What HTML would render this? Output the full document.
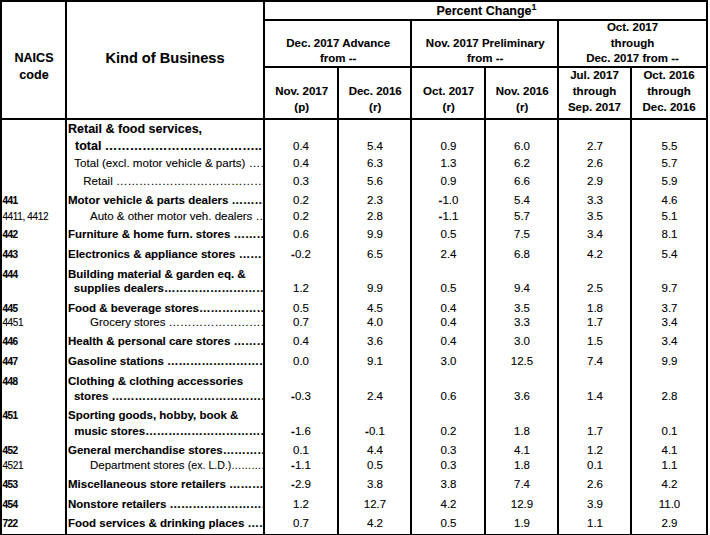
<!DOCTYPE html>
<html lang="en">
<head>
<meta charset="utf-8">
<title>Percent Change by Kind of Business</title>
<style>
html,body{margin:0;padding:0;background:#fff;}
body{width:710px;height:535px;overflow:hidden;position:relative;font-family:"Liberation Sans",Arial,Helvetica,sans-serif;color:#000;}
.l{position:absolute;background:#000;}
.t{position:absolute;white-space:pre;overflow:hidden;-webkit-text-stroke:0.1px #000;}
.b{font-weight:bold;}
.big{font-size:12.5px;}
.sup{font-size:9px;position:relative;top:-5px;}
</style>
</head>
<body>
<div class="l" style="left:0px;top:0px;width:708px;height:2px"></div>
<div class="l" style="left:0px;top:0px;width:2px;height:535px"></div>
<div class="l" style="left:706px;top:0px;width:2px;height:535px"></div>
<div class="l" style="left:0px;top:534px;width:708px;height:2px"></div>
<div class="l" style="left:65px;top:0px;width:2px;height:535px"></div>
<div class="l" style="left:263px;top:0px;width:2px;height:535px"></div>
<div class="l" style="left:337px;top:66px;width:2px;height:469px"></div>
<div class="l" style="left:410px;top:20px;width:2px;height:515px"></div>
<div class="l" style="left:484px;top:66px;width:2px;height:469px"></div>
<div class="l" style="left:557px;top:20px;width:2px;height:515px"></div>
<div class="l" style="left:630px;top:66px;width:2px;height:469px"></div>
<div class="l" style="left:263px;top:19px;width:445px;height:2px"></div>
<div class="l" style="left:263px;top:66px;width:445px;height:2px"></div>
<div class="l" style="left:0px;top:118px;width:708px;height:2px"></div>
<div class="t b" style="left:2.5px;top:51px;width:63px;height:14px;line-height:14px;font-size:12.6px;text-align:center;">NAICS</div>
<div class="t b" style="left:2.5px;top:68px;width:63px;height:14px;line-height:14px;font-size:12.6px;text-align:center;">code</div>
<div class="t b" style="left:67px;top:49px;width:196px;height:18px;line-height:18px;font-size:14.6px;text-align:center;">Kind of Business</div>
<div class="t b" style="left:266px;top:3.5px;width:441px;height:14px;line-height:14px;font-size:12.5px;text-align:center;">Percent Change<span class="sup">1</span></div>
<div class="t b" style="left:265.7px;top:36px;width:145px;height:14px;line-height:14px;font-size:11.5px;text-align:center;">Dec. 2017 Advance</div>
<div class="t b" style="left:265.7px;top:51px;width:145px;height:14px;line-height:14px;font-size:11.5px;text-align:center;">from --</div>
<div class="t b" style="left:412.7px;top:36px;width:145px;height:14px;line-height:14px;font-size:11.5px;text-align:center;">Nov. 2017 Preliminary</div>
<div class="t b" style="left:412.7px;top:51px;width:145px;height:14px;line-height:14px;font-size:11.5px;text-align:center;">from --</div>
<div class="t b" style="left:559px;top:20px;width:147px;height:14px;line-height:14px;font-size:11.5px;text-align:center;">Oct. 2017</div>
<div class="t b" style="left:559px;top:36px;width:147px;height:14px;line-height:14px;font-size:11.5px;text-align:center;">through</div>
<div class="t b" style="left:559px;top:51px;width:147px;height:14px;line-height:14px;font-size:11.5px;text-align:center;">Dec. 2017 from --</div>
<div class="t b" style="left:265.7px;top:84px;width:72px;height:14px;line-height:14px;font-size:11.5px;text-align:center;">Nov. 2017</div>
<div class="t b" style="left:265.7px;top:100px;width:72px;height:14px;line-height:14px;font-size:11.5px;text-align:center;">(p)</div>
<div class="t b" style="left:339.7px;top:84px;width:71px;height:14px;line-height:14px;font-size:11.5px;text-align:center;">Dec. 2016</div>
<div class="t b" style="left:339.7px;top:100px;width:71px;height:14px;line-height:14px;font-size:11.5px;text-align:center;">(r)</div>
<div class="t b" style="left:412.7px;top:84px;width:72px;height:14px;line-height:14px;font-size:11.5px;text-align:center;">Oct. 2017</div>
<div class="t b" style="left:412.7px;top:100px;width:72px;height:14px;line-height:14px;font-size:11.5px;text-align:center;">(r)</div>
<div class="t b" style="left:486.7px;top:84px;width:71px;height:14px;line-height:14px;font-size:11.5px;text-align:center;">Nov. 2016</div>
<div class="t b" style="left:486.7px;top:100px;width:71px;height:14px;line-height:14px;font-size:11.5px;text-align:center;">(r)</div>
<div class="t b" style="left:559px;top:68px;width:71px;height:14px;line-height:14px;font-size:11.5px;text-align:center;">Jul. 2017</div>
<div class="t b" style="left:559px;top:84px;width:71px;height:14px;line-height:14px;font-size:11.5px;text-align:center;">through</div>
<div class="t b" style="left:559px;top:100px;width:71px;height:14px;line-height:14px;font-size:11.5px;text-align:center;">Sep. 2017</div>
<div class="t b" style="left:632px;top:68px;width:74px;height:14px;line-height:14px;font-size:11.5px;text-align:center;">Oct. 2016</div>
<div class="t b" style="left:632px;top:84px;width:74px;height:14px;line-height:14px;font-size:11.5px;text-align:center;">through</div>
<div class="t b" style="left:632px;top:100px;width:74px;height:14px;line-height:14px;font-size:11.5px;text-align:center;">Dec. 2016</div>
<div class="t b" style="left:68px;top:122px;width:195px;height:14px;line-height:14px;font-size:11.5px;padding-left:0px;box-sizing:border-box;"><span class="big">Retail &amp; food services,</span></div>
<div class="t b" style="left:68px;top:139px;width:195px;height:14px;line-height:14px;font-size:11.5px;padding-left:7px;box-sizing:border-box;"><span class="big">total ………………………………..</span></div>
<div class="t " style="left:265px;top:139px;width:72px;height:14px;line-height:14px;font-size:11.5px;text-align:center;">0.4</div>
<div class="t " style="left:339.5px;top:139px;width:71px;height:14px;line-height:14px;font-size:11.5px;text-align:center;">5.4</div>
<div class="t " style="left:412.5px;top:139px;width:72px;height:14px;line-height:14px;font-size:11.5px;text-align:center;">0.9</div>
<div class="t " style="left:486.5px;top:139px;width:71px;height:14px;line-height:14px;font-size:11.5px;text-align:center;">6.0</div>
<div class="t " style="left:559.5px;top:139px;width:71px;height:14px;line-height:14px;font-size:11.5px;text-align:center;">2.7</div>
<div class="t " style="left:632.5px;top:139px;width:74px;height:14px;line-height:14px;font-size:11.5px;text-align:center;">5.5</div>
<div class="t " style="left:68px;top:156px;width:195px;height:14px;line-height:14px;font-size:11.5px;padding-left:6.3px;box-sizing:border-box;"><span style="font-size:11.58px">Total (excl. motor vehicle &amp; parts) ………………………………………………………………………………</span></div>
<div class="t " style="left:265px;top:156px;width:72px;height:14px;line-height:14px;font-size:11.5px;text-align:center;">0.4</div>
<div class="t " style="left:339.5px;top:156px;width:71px;height:14px;line-height:14px;font-size:11.5px;text-align:center;">6.3</div>
<div class="t " style="left:412.5px;top:156px;width:72px;height:14px;line-height:14px;font-size:11.5px;text-align:center;">1.3</div>
<div class="t " style="left:486.5px;top:156px;width:71px;height:14px;line-height:14px;font-size:11.5px;text-align:center;">6.2</div>
<div class="t " style="left:559.5px;top:156px;width:71px;height:14px;line-height:14px;font-size:11.5px;text-align:center;">2.6</div>
<div class="t " style="left:632.5px;top:156px;width:74px;height:14px;line-height:14px;font-size:11.5px;text-align:center;">5.7</div>
<div class="t " style="left:68px;top:174px;width:195px;height:14px;line-height:14px;font-size:11.5px;padding-left:15.3px;box-sizing:border-box;">Retail ………………………………………………………………………………</div>
<div class="t " style="left:265px;top:174px;width:72px;height:14px;line-height:14px;font-size:11.5px;text-align:center;">0.3</div>
<div class="t " style="left:339.5px;top:174px;width:71px;height:14px;line-height:14px;font-size:11.5px;text-align:center;">5.6</div>
<div class="t " style="left:412.5px;top:174px;width:72px;height:14px;line-height:14px;font-size:11.5px;text-align:center;">0.9</div>
<div class="t " style="left:486.5px;top:174px;width:71px;height:14px;line-height:14px;font-size:11.5px;text-align:center;">6.6</div>
<div class="t " style="left:559.5px;top:174px;width:71px;height:14px;line-height:14px;font-size:11.5px;text-align:center;">2.9</div>
<div class="t " style="left:632.5px;top:174px;width:74px;height:14px;line-height:14px;font-size:11.5px;text-align:center;">5.9</div>
<div class="t b" style="left:2.4px;top:194px;width:62px;height:14px;line-height:14px;font-size:10px;letter-spacing:-0.55px;">441</div>
<div class="t b" style="left:68px;top:193px;width:195px;height:14px;line-height:14px;font-size:11.5px;padding-left:0px;box-sizing:border-box;">Motor vehicle &amp; parts dealers ………………………………………………………………………………</div>
<div class="t " style="left:265px;top:193px;width:72px;height:14px;line-height:14px;font-size:11.5px;text-align:center;">0.2</div>
<div class="t " style="left:339.5px;top:193px;width:71px;height:14px;line-height:14px;font-size:11.5px;text-align:center;">2.3</div>
<div class="t " style="left:412.5px;top:193px;width:72px;height:14px;line-height:14px;font-size:11.5px;text-align:center;"><b>-</b>1.0</div>
<div class="t " style="left:486.5px;top:193px;width:71px;height:14px;line-height:14px;font-size:11.5px;text-align:center;">5.4</div>
<div class="t " style="left:559.5px;top:193px;width:71px;height:14px;line-height:14px;font-size:11.5px;text-align:center;">3.3</div>
<div class="t " style="left:632.5px;top:193px;width:74px;height:14px;line-height:14px;font-size:11.5px;text-align:center;">4.6</div>
<div class="t " style="left:2.4px;top:210px;width:62px;height:14px;line-height:14px;font-size:10px;letter-spacing:-0.35px;">4411, 4412</div>
<div class="t " style="left:68px;top:209px;width:195px;height:14px;line-height:14px;font-size:11.5px;padding-left:22px;box-sizing:border-box;">Auto &amp; other motor veh. dealers ………………………………………………………………………………</div>
<div class="t " style="left:265px;top:209px;width:72px;height:14px;line-height:14px;font-size:11.5px;text-align:center;">0.2</div>
<div class="t " style="left:339.5px;top:209px;width:71px;height:14px;line-height:14px;font-size:11.5px;text-align:center;">2.8</div>
<div class="t " style="left:412.5px;top:209px;width:72px;height:14px;line-height:14px;font-size:11.5px;text-align:center;"><b>-</b>1.1</div>
<div class="t " style="left:486.5px;top:209px;width:71px;height:14px;line-height:14px;font-size:11.5px;text-align:center;">5.7</div>
<div class="t " style="left:559.5px;top:209px;width:71px;height:14px;line-height:14px;font-size:11.5px;text-align:center;">3.5</div>
<div class="t " style="left:632.5px;top:209px;width:74px;height:14px;line-height:14px;font-size:11.5px;text-align:center;">5.1</div>
<div class="t b" style="left:2.4px;top:228px;width:62px;height:14px;line-height:14px;font-size:10px;letter-spacing:-0.55px;">442</div>
<div class="t b" style="left:68px;top:227px;width:195px;height:14px;line-height:14px;font-size:11.5px;padding-left:0px;box-sizing:border-box;">Furniture &amp; home furn. stores ………………………………………………………………………………</div>
<div class="t " style="left:265px;top:227px;width:72px;height:14px;line-height:14px;font-size:11.5px;text-align:center;">0.6</div>
<div class="t " style="left:339.5px;top:227px;width:71px;height:14px;line-height:14px;font-size:11.5px;text-align:center;">9.9</div>
<div class="t " style="left:412.5px;top:227px;width:72px;height:14px;line-height:14px;font-size:11.5px;text-align:center;">0.5</div>
<div class="t " style="left:486.5px;top:227px;width:71px;height:14px;line-height:14px;font-size:11.5px;text-align:center;">7.5</div>
<div class="t " style="left:559.5px;top:227px;width:71px;height:14px;line-height:14px;font-size:11.5px;text-align:center;">3.4</div>
<div class="t " style="left:632.5px;top:227px;width:74px;height:14px;line-height:14px;font-size:11.5px;text-align:center;">8.1</div>
<div class="t b" style="left:2.4px;top:248px;width:62px;height:14px;line-height:14px;font-size:10px;letter-spacing:-0.55px;">443</div>
<div class="t b" style="left:68px;top:247px;width:195px;height:14px;line-height:14px;font-size:11.5px;padding-left:0px;box-sizing:border-box;">Electronics &amp; appliance stores ………………………………………………………………………………</div>
<div class="t " style="left:265px;top:247px;width:72px;height:14px;line-height:14px;font-size:11.5px;text-align:center;"><b>-</b>0.2</div>
<div class="t " style="left:339.5px;top:247px;width:71px;height:14px;line-height:14px;font-size:11.5px;text-align:center;">6.5</div>
<div class="t " style="left:412.5px;top:247px;width:72px;height:14px;line-height:14px;font-size:11.5px;text-align:center;">2.4</div>
<div class="t " style="left:486.5px;top:247px;width:71px;height:14px;line-height:14px;font-size:11.5px;text-align:center;">6.8</div>
<div class="t " style="left:559.5px;top:247px;width:71px;height:14px;line-height:14px;font-size:11.5px;text-align:center;">4.2</div>
<div class="t " style="left:632.5px;top:247px;width:74px;height:14px;line-height:14px;font-size:11.5px;text-align:center;">5.4</div>
<div class="t b" style="left:2.4px;top:268px;width:62px;height:14px;line-height:14px;font-size:10px;letter-spacing:-0.55px;">444</div>
<div class="t b" style="left:68px;top:267px;width:195px;height:14px;line-height:14px;font-size:11.5px;padding-left:0px;box-sizing:border-box;">Building material &amp; garden eq. &amp;</div>
<div class="t b" style="left:68px;top:281px;width:195px;height:14px;line-height:14px;font-size:11.5px;padding-left:5.8px;box-sizing:border-box;">supplies dealers………………………………………………………………………………</div>
<div class="t " style="left:265px;top:281px;width:72px;height:14px;line-height:14px;font-size:11.5px;text-align:center;">1.2</div>
<div class="t " style="left:339.5px;top:281px;width:71px;height:14px;line-height:14px;font-size:11.5px;text-align:center;">9.9</div>
<div class="t " style="left:412.5px;top:281px;width:72px;height:14px;line-height:14px;font-size:11.5px;text-align:center;">0.5</div>
<div class="t " style="left:486.5px;top:281px;width:71px;height:14px;line-height:14px;font-size:11.5px;text-align:center;">9.4</div>
<div class="t " style="left:559.5px;top:281px;width:71px;height:14px;line-height:14px;font-size:11.5px;text-align:center;">2.5</div>
<div class="t " style="left:632.5px;top:281px;width:74px;height:14px;line-height:14px;font-size:11.5px;text-align:center;">9.7</div>
<div class="t b" style="left:2.4px;top:302px;width:62px;height:14px;line-height:14px;font-size:10px;letter-spacing:-0.55px;">445</div>
<div class="t b" style="left:68px;top:301px;width:195px;height:14px;line-height:14px;font-size:11.5px;padding-left:0px;box-sizing:border-box;">Food &amp; beverage stores………………………………………………………………………………</div>
<div class="t " style="left:265px;top:301px;width:72px;height:14px;line-height:14px;font-size:11.5px;text-align:center;">0.5</div>
<div class="t " style="left:339.5px;top:301px;width:71px;height:14px;line-height:14px;font-size:11.5px;text-align:center;">4.5</div>
<div class="t " style="left:412.5px;top:301px;width:72px;height:14px;line-height:14px;font-size:11.5px;text-align:center;">0.4</div>
<div class="t " style="left:486.5px;top:301px;width:71px;height:14px;line-height:14px;font-size:11.5px;text-align:center;">3.5</div>
<div class="t " style="left:559.5px;top:301px;width:71px;height:14px;line-height:14px;font-size:11.5px;text-align:center;">1.8</div>
<div class="t " style="left:632.5px;top:301px;width:74px;height:14px;line-height:14px;font-size:11.5px;text-align:center;">3.7</div>
<div class="t " style="left:2.4px;top:316px;width:62px;height:14px;line-height:14px;font-size:10px;letter-spacing:-0.35px;">4451</div>
<div class="t " style="left:68px;top:315px;width:195px;height:14px;line-height:14px;font-size:11.5px;padding-left:22px;box-sizing:border-box;">Grocery stores ………………………………………………………………………………</div>
<div class="t " style="left:265px;top:315px;width:72px;height:14px;line-height:14px;font-size:11.5px;text-align:center;">0.7</div>
<div class="t " style="left:339.5px;top:315px;width:71px;height:14px;line-height:14px;font-size:11.5px;text-align:center;">4.0</div>
<div class="t " style="left:412.5px;top:315px;width:72px;height:14px;line-height:14px;font-size:11.5px;text-align:center;">0.4</div>
<div class="t " style="left:486.5px;top:315px;width:71px;height:14px;line-height:14px;font-size:11.5px;text-align:center;">3.3</div>
<div class="t " style="left:559.5px;top:315px;width:71px;height:14px;line-height:14px;font-size:11.5px;text-align:center;">1.7</div>
<div class="t " style="left:632.5px;top:315px;width:74px;height:14px;line-height:14px;font-size:11.5px;text-align:center;">3.4</div>
<div class="t b" style="left:2.4px;top:335px;width:62px;height:14px;line-height:14px;font-size:10px;letter-spacing:-0.55px;">446</div>
<div class="t b" style="left:68px;top:334px;width:195px;height:14px;line-height:14px;font-size:11.5px;padding-left:0px;box-sizing:border-box;">Health &amp; personal care stores ………………………………………………………………………………</div>
<div class="t " style="left:265px;top:334px;width:72px;height:14px;line-height:14px;font-size:11.5px;text-align:center;">0.4</div>
<div class="t " style="left:339.5px;top:334px;width:71px;height:14px;line-height:14px;font-size:11.5px;text-align:center;">3.6</div>
<div class="t " style="left:412.5px;top:334px;width:72px;height:14px;line-height:14px;font-size:11.5px;text-align:center;">0.4</div>
<div class="t " style="left:486.5px;top:334px;width:71px;height:14px;line-height:14px;font-size:11.5px;text-align:center;">3.0</div>
<div class="t " style="left:559.5px;top:334px;width:71px;height:14px;line-height:14px;font-size:11.5px;text-align:center;">1.5</div>
<div class="t " style="left:632.5px;top:334px;width:74px;height:14px;line-height:14px;font-size:11.5px;text-align:center;">3.4</div>
<div class="t b" style="left:2.4px;top:355px;width:62px;height:14px;line-height:14px;font-size:10px;letter-spacing:-0.55px;">447</div>
<div class="t b" style="left:68px;top:354px;width:195px;height:14px;line-height:14px;font-size:11.5px;padding-left:0px;box-sizing:border-box;">Gasoline stations ………………………………………………………………………………</div>
<div class="t " style="left:265px;top:354px;width:72px;height:14px;line-height:14px;font-size:11.5px;text-align:center;">0.0</div>
<div class="t " style="left:339.5px;top:354px;width:71px;height:14px;line-height:14px;font-size:11.5px;text-align:center;">9.1</div>
<div class="t " style="left:412.5px;top:354px;width:72px;height:14px;line-height:14px;font-size:11.5px;text-align:center;">3.0</div>
<div class="t " style="left:486.5px;top:354px;width:71px;height:14px;line-height:14px;font-size:11.5px;text-align:center;">12.5</div>
<div class="t " style="left:559.5px;top:354px;width:71px;height:14px;line-height:14px;font-size:11.5px;text-align:center;">7.4</div>
<div class="t " style="left:632.5px;top:354px;width:74px;height:14px;line-height:14px;font-size:11.5px;text-align:center;">9.9</div>
<div class="t b" style="left:2.4px;top:375px;width:62px;height:14px;line-height:14px;font-size:10px;letter-spacing:-0.55px;">448</div>
<div class="t b" style="left:68px;top:374px;width:195px;height:14px;line-height:14px;font-size:11.5px;padding-left:0px;box-sizing:border-box;">Clothing &amp; clothing accessories</div>
<div class="t b" style="left:68px;top:389px;width:195px;height:14px;line-height:14px;font-size:11.5px;padding-left:5.9px;box-sizing:border-box;">stores ………………………………………………………………………………</div>
<div class="t " style="left:265px;top:389px;width:72px;height:14px;line-height:14px;font-size:11.5px;text-align:center;"><b>-</b>0.3</div>
<div class="t " style="left:339.5px;top:389px;width:71px;height:14px;line-height:14px;font-size:11.5px;text-align:center;">2.4</div>
<div class="t " style="left:412.5px;top:389px;width:72px;height:14px;line-height:14px;font-size:11.5px;text-align:center;">0.6</div>
<div class="t " style="left:486.5px;top:389px;width:71px;height:14px;line-height:14px;font-size:11.5px;text-align:center;">3.6</div>
<div class="t " style="left:559.5px;top:389px;width:71px;height:14px;line-height:14px;font-size:11.5px;text-align:center;">1.4</div>
<div class="t " style="left:632.5px;top:389px;width:74px;height:14px;line-height:14px;font-size:11.5px;text-align:center;">2.8</div>
<div class="t b" style="left:2.4px;top:409px;width:62px;height:14px;line-height:14px;font-size:10px;letter-spacing:-0.55px;">451</div>
<div class="t b" style="left:68px;top:408px;width:195px;height:14px;line-height:14px;font-size:11.5px;padding-left:0px;box-sizing:border-box;">Sporting goods, hobby, book &amp;</div>
<div class="t b" style="left:68px;top:424px;width:195px;height:14px;line-height:14px;font-size:11.5px;padding-left:6.2px;box-sizing:border-box;">music stores………………………………………………………………………………</div>
<div class="t " style="left:265px;top:424px;width:72px;height:14px;line-height:14px;font-size:11.5px;text-align:center;"><b>-</b>1.6</div>
<div class="t " style="left:339.5px;top:424px;width:71px;height:14px;line-height:14px;font-size:11.5px;text-align:center;"><b>-</b>0.1</div>
<div class="t " style="left:412.5px;top:424px;width:72px;height:14px;line-height:14px;font-size:11.5px;text-align:center;">0.2</div>
<div class="t " style="left:486.5px;top:424px;width:71px;height:14px;line-height:14px;font-size:11.5px;text-align:center;">1.8</div>
<div class="t " style="left:559.5px;top:424px;width:71px;height:14px;line-height:14px;font-size:11.5px;text-align:center;">1.7</div>
<div class="t " style="left:632.5px;top:424px;width:74px;height:14px;line-height:14px;font-size:11.5px;text-align:center;">0.1</div>
<div class="t b" style="left:2.4px;top:444px;width:62px;height:14px;line-height:14px;font-size:10px;letter-spacing:-0.55px;">452</div>
<div class="t b" style="left:68px;top:443px;width:195px;height:14px;line-height:14px;font-size:11.5px;padding-left:0px;box-sizing:border-box;">General merchandise stores………………………………………………………………………………</div>
<div class="t " style="left:265px;top:443px;width:72px;height:14px;line-height:14px;font-size:11.5px;text-align:center;">0.1</div>
<div class="t " style="left:339.5px;top:443px;width:71px;height:14px;line-height:14px;font-size:11.5px;text-align:center;">4.4</div>
<div class="t " style="left:412.5px;top:443px;width:72px;height:14px;line-height:14px;font-size:11.5px;text-align:center;">0.3</div>
<div class="t " style="left:486.5px;top:443px;width:71px;height:14px;line-height:14px;font-size:11.5px;text-align:center;">4.1</div>
<div class="t " style="left:559.5px;top:443px;width:71px;height:14px;line-height:14px;font-size:11.5px;text-align:center;">1.2</div>
<div class="t " style="left:632.5px;top:443px;width:74px;height:14px;line-height:14px;font-size:11.5px;text-align:center;">4.1</div>
<div class="t " style="left:2.4px;top:459px;width:62px;height:14px;line-height:14px;font-size:10px;letter-spacing:-0.35px;">4521</div>
<div class="t " style="left:68px;top:458px;width:195px;height:14px;line-height:14px;font-size:11.5px;padding-left:22px;box-sizing:border-box;">Department stores <span style="font-size:10.6px">(ex. L.D.)</span><span style="font-size:10px">………………………………………………………………………………</span></div>
<div class="t " style="left:265px;top:458px;width:72px;height:14px;line-height:14px;font-size:11.5px;text-align:center;"><b>-</b>1.1</div>
<div class="t " style="left:339.5px;top:458px;width:71px;height:14px;line-height:14px;font-size:11.5px;text-align:center;">0.5</div>
<div class="t " style="left:412.5px;top:458px;width:72px;height:14px;line-height:14px;font-size:11.5px;text-align:center;">0.3</div>
<div class="t " style="left:486.5px;top:458px;width:71px;height:14px;line-height:14px;font-size:11.5px;text-align:center;">1.8</div>
<div class="t " style="left:559.5px;top:458px;width:71px;height:14px;line-height:14px;font-size:11.5px;text-align:center;">0.1</div>
<div class="t " style="left:632.5px;top:458px;width:74px;height:14px;line-height:14px;font-size:11.5px;text-align:center;">1.1</div>
<div class="t b" style="left:2.4px;top:478px;width:62px;height:14px;line-height:14px;font-size:10px;letter-spacing:-0.55px;">453</div>
<div class="t b" style="left:68px;top:477px;width:195px;height:14px;line-height:14px;font-size:11.5px;padding-left:0px;box-sizing:border-box;">Miscellaneous store retailers ………………………………………………………………………………</div>
<div class="t " style="left:265px;top:477px;width:72px;height:14px;line-height:14px;font-size:11.5px;text-align:center;"><b>-</b>2.9</div>
<div class="t " style="left:339.5px;top:477px;width:71px;height:14px;line-height:14px;font-size:11.5px;text-align:center;">3.8</div>
<div class="t " style="left:412.5px;top:477px;width:72px;height:14px;line-height:14px;font-size:11.5px;text-align:center;">3.8</div>
<div class="t " style="left:486.5px;top:477px;width:71px;height:14px;line-height:14px;font-size:11.5px;text-align:center;">7.4</div>
<div class="t " style="left:559.5px;top:477px;width:71px;height:14px;line-height:14px;font-size:11.5px;text-align:center;">2.6</div>
<div class="t " style="left:632.5px;top:477px;width:74px;height:14px;line-height:14px;font-size:11.5px;text-align:center;">4.2</div>
<div class="t b" style="left:2.4px;top:498px;width:62px;height:14px;line-height:14px;font-size:10px;letter-spacing:-0.55px;">454</div>
<div class="t b" style="left:68px;top:497px;width:195px;height:14px;line-height:14px;font-size:11.5px;padding-left:0px;box-sizing:border-box;">Nonstore retailers ………………………………………………………………………………</div>
<div class="t " style="left:265px;top:497px;width:72px;height:14px;line-height:14px;font-size:11.5px;text-align:center;">1.2</div>
<div class="t " style="left:339.5px;top:497px;width:71px;height:14px;line-height:14px;font-size:11.5px;text-align:center;">12.7</div>
<div class="t " style="left:412.5px;top:497px;width:72px;height:14px;line-height:14px;font-size:11.5px;text-align:center;">4.2</div>
<div class="t " style="left:486.5px;top:497px;width:71px;height:14px;line-height:14px;font-size:11.5px;text-align:center;">12.9</div>
<div class="t " style="left:559.5px;top:497px;width:71px;height:14px;line-height:14px;font-size:11.5px;text-align:center;">3.9</div>
<div class="t " style="left:632.5px;top:497px;width:74px;height:14px;line-height:14px;font-size:11.5px;text-align:center;">11.0</div>
<div class="t b" style="left:2.4px;top:517px;width:62px;height:14px;line-height:14px;font-size:10px;letter-spacing:-0.55px;">722</div>
<div class="t b" style="left:68px;top:516px;width:195px;height:14px;line-height:14px;font-size:11.5px;padding-left:0px;box-sizing:border-box;">Food services &amp; drinking places ………………………………………………………………………………</div>
<div class="t " style="left:265px;top:516px;width:72px;height:14px;line-height:14px;font-size:11.5px;text-align:center;">0.7</div>
<div class="t " style="left:339.5px;top:516px;width:71px;height:14px;line-height:14px;font-size:11.5px;text-align:center;">4.2</div>
<div class="t " style="left:412.5px;top:516px;width:72px;height:14px;line-height:14px;font-size:11.5px;text-align:center;">0.5</div>
<div class="t " style="left:486.5px;top:516px;width:71px;height:14px;line-height:14px;font-size:11.5px;text-align:center;">1.9</div>
<div class="t " style="left:559.5px;top:516px;width:71px;height:14px;line-height:14px;font-size:11.5px;text-align:center;">1.1</div>
<div class="t " style="left:632.5px;top:516px;width:74px;height:14px;line-height:14px;font-size:11.5px;text-align:center;">2.9</div>
</body>
</html>
